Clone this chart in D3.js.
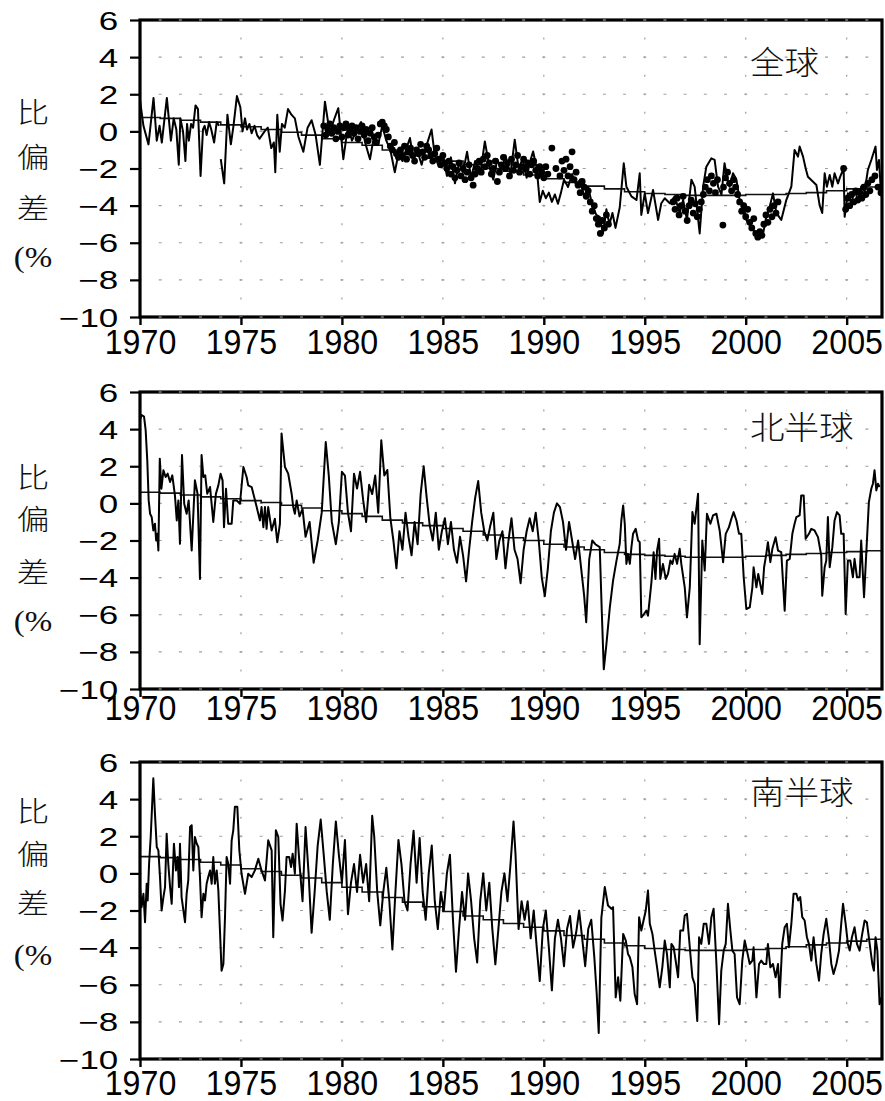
<!DOCTYPE html>
<html>
<head>
<meta charset="utf-8">
<script src="https://cdn.jsdelivr.net/npm/d3@7"></script>
<style>
  body { margin: 0; background: #fff; }
</style>
</head>
<body>
<div id="chart"></div>
<script>
// ---- data ----
const xTicks = [1970, 1975, 1980, 1985, 1990, 1995, 2000, 2005];
const yTicks = [6, 4, 2, 0, -2, -4, -6, -8, -10];
const gridValues = [4, 2, 0, -2, -4, -6, -8];
const panelTitles = ["全球", "北半球", "南半球"];
const axisTitle = ["比", "偏", "差", "(%"];

const trendYears = [1970, 1971, 1972, 1973, 1974, 1975, 1976, 1977, 1978, 1979,
  1980, 1981, 1982, 1983, 1984, 1985, 1986, 1987, 1988, 1989,
  1990, 1991, 1992, 1993, 1994, 1995, 1996, 1997, 1998, 1999,
  2000, 2001, 2002, 2003, 2004, 2005, 2006, 2006.75];

const globalTrend = [0.75, 0.7, 0.6, 0.5, 0.35, 0.25, 0.1, -0.05, -0.2, -0.4,
  -0.6, -0.75, -1.0, -1.25, -1.45, -1.6, -1.8, -2.0, -2.15, -2.35,
  -2.55, -2.75, -2.95, -3.1, -3.25, -3.35, -3.4, -3.45, -3.45, -3.45,
  -3.4, -3.4, -3.35, -3.3, -3.2, -3.1, -3.0, -3.0];

const northTrend = [0.6, 0.55, 0.45, 0.35, 0.25, 0.15, 0.05, -0.1, -0.25, -0.4,
  -0.55, -0.7, -0.9, -1.05, -1.2, -1.35, -1.5, -1.7, -1.85, -2.0,
  -2.2, -2.35, -2.5, -2.65, -2.75, -2.8, -2.85, -2.9, -2.9, -2.9,
  -2.85, -2.8, -2.75, -2.7, -2.65, -2.6, -2.55, -2.55];

const southTrend = [0.9, 0.85, 0.75, 0.6, 0.45, 0.25, 0.1, -0.1, -0.25, -0.5,
  -0.75, -1.0, -1.3, -1.55, -1.8, -2.05, -2.3, -2.5, -2.7, -2.9,
  -3.1, -3.35, -3.55, -3.75, -3.9, -4.05, -4.1, -4.15, -4.15, -4.15,
  -4.1, -4.05, -3.95, -3.85, -3.75, -3.65, -3.55, -3.55];

// [year, anomaly %]; null marks a break in the record
const globalSeries = [
  [1970.0,1.7],[1970.17,0.3],[1970.42,-0.7],[1970.67,1.8],[1970.83,-0.5],[1970.97,0.3],
  [1971.08,-0.6],[1971.33,1.8],[1971.53,-0.5],[1971.67,0.7],[1971.8,0.1],[1971.92,-1.8],
  [1972.0,0.7],[1972.13,0],[1972.25,-1.6],[1972.33,0.4],[1972.42,-0.5],[1972.53,0.4],
  [1972.63,0.2],[1972.75,1.4],[1972.87,1.2],[1973.0,-2.4],[1973.12,0.1],[1973.2,0.3],
  [1973.3,-0.2],[1973.42,0.5],[1973.53,0.1],[1973.67,-0.6],[1973.8,0.5],[1973.92,0.3],
  [1973.96,null],[1974.0,-1.5],[1974.17,-2.8],[1974.33,0.9],[1974.5,-0.7],[1974.63,0.3],
  [1974.8,1.9],[1974.97,1.3],[1975.08,0],[1975.2,0.7],[1975.3,0.1],[1975.42,0.4],
  [1975.53,-0.1],[1975.67,0.3],[1975.8,-0.2],[1975.92,-0.4],[1976.17,0],[1976.33,0.2],
  [1976.5,-0.9],[1976.63,-0.6],[1976.7,-2.2],[1976.8,0.9],[1976.92,-1.1],[1977.03,0.4],
  [1977.17,0.2],[1977.33,1.2],[1977.5,0.9],[1977.67,0.7],[1977.85,-0.3],[1978.09,-1.1],
  [1978.3,0.2],[1978.5,0.6],[1978.7,-0.2],[1978.91,-1.8],[1979.16,1.6],[1979.4,-0.1],
  [1979.6,0.6],[1979.82,1.25],[1980.07,-1.5],[1980.3,0.3],[1980.5,-0.5],[1980.73,0.1],
  [1980.95,0.5],[1981.15,-0.6],[1981.39,-1.5],[1981.6,-0.2],[1981.8,-0.7],[1982.0,0.3],
  [1982.2,-0.5],[1982.4,-1.0],[1982.62,-2.2],[1982.8,-1.2],[1983.0,-1.6],[1983.2,-0.9],
  [1983.37,-0.36],[1983.55,-1.5],[1983.75,-1.1],[1983.95,-1.8],[1984.15,-0.9],[1984.44,0.1],
  [1984.6,-1.3],[1984.8,-1.9],[1985.0,-1.2],[1985.2,-2.4],[1985.4,-1.4],[1985.6,-2.8],
  [1985.8,-1.7],[1986.0,-2.2],[1986.2,-1.1],[1986.4,-2.5],[1986.6,-1.6],[1986.85,-2.3],
  [1987.08,-0.54],[1987.3,-1.9],[1987.5,-2.6],[1987.7,-1.5],[1987.9,-2.1],[1988.1,-1.3],
  [1988.35,-2.3],[1988.56,-0.45],[1988.75,-2.0],[1988.95,-1.5],[1989.15,-2.5],[1989.3,-1.7],
  [1989.47,-1.08],[1989.65,-2.0],[1989.8,-3.8],[1989.95,-3.2],[1990.1,-3.6],[1990.25,-3.3],
  [1990.4,-3.8],[1990.55,-3.4],[1990.7,-3.9],[1990.85,-3.3],[1991.0,-2.6],[1991.2,-3.0],
  [1991.4,-2.3],[1991.6,-2.9],[1991.8,-2.6],[1992.0,-3.5],[1992.2,-3.0],[1992.4,-4.0],
  [1992.6,-4.5],[1992.77,-4.6],[1992.93,-5.5],[1993.1,-4.2],[1993.25,-5.0],[1993.4,-4.4],
  [1993.55,-5.2],[1993.76,-4.1],[1993.96,-1.72],[1994.09,-2.98],[1994.34,-3.5],[1994.59,-3.7],
  [1994.75,-2.26],[1994.83,-4.5],[1995.0,-3.34],[1995.16,-4.4],[1995.41,-3.16],[1995.66,-4.77],
  [1995.82,-3.87],[1995.99,-3.6],[1996.24,-3.87],[1996.48,-3.5],[1996.73,-4.4],[1996.9,-3.7],
  [1997.09,-4.77],[1997.31,-2.6],[1997.47,-2.98],[1997.72,-5.5],[1997.89,-2.98],[1998.05,-1.9],
  [1998.3,-1.45],[1998.46,-1.54],[1998.63,-2.98],[1998.8,-3.4],[1998.95,-1.72],[1999.1,-2.6],
  [1999.2,-2.98],[1999.37,-2.26],[1999.54,-2.6],[1999.7,-3.7],[1999.87,-3.87],[2000.03,-4.77],
  [2000.36,-5.3],[2000.61,-5.67],[2000.86,-5.5],[2001.02,-4.6],[2001.19,-4.05],[2001.35,-3.34],
  [2001.52,-4.4],[2001.76,-4.77],[2002.01,-3.7],[2002.26,-2.98],[2002.42,-1.0],[2002.59,-1.36],
  [2002.67,-0.82],[2002.84,-1.36],[2002.97,-2.0],[2003.08,-2.44],[2003.5,-2.89],[2003.66,-3.97],
  [2003.79,-4.4],[2003.91,-2.26],[2004.02,-2.98],[2004.16,-2.35],[2004.29,-2.98],[2004.4,-2.26],
  [2004.57,-2.8],[2004.68,-2.44],[2004.85,-2.0],[2004.9,-4.6],[2005.06,-3.34],[2005.23,-3.88],
  [2005.39,-3.16],[2005.56,-3.7],[2005.72,-2.98],[2005.89,-3.25],[2006.05,-2.08],[2006.22,-1.54],
  [2006.43,-0.82],[2006.5,-2.08],[2006.6,-1.54],[2006.71,-3.5]
];

// independent global estimates drawn as dots
const globalPoints = [
  [1979.1,0.3],[1979.2,-0.2],[1979.3,0.1],[1979.4,0.4],[1979.5,-0.1],[1979.6,0.2],[1979.7,-0.4],
  [1979.8,0.0],[1979.9,0.3],[1980.0,-0.3],[1980.1,0.2],[1980.2,0.4],[1980.3,-0.2],[1980.4,0.1],
  [1980.5,0.3],[1980.6,-0.1],[1980.7,0.2],[1980.8,-0.4],[1980.9,0.0],[1981.0,0.3],[1981.1,-0.2],
  [1981.2,0.1],[1981.3,-0.5],[1981.4,-0.1],[1981.5,0.2],[1981.6,-0.3],[1981.7,-0.6],[1981.8,-0.2],
  [1981.9,0.4],[1982.0,0.5],[1982.1,0.3],[1982.2,0.1],[1982.3,-0.3],[1982.4,-0.8],[1982.5,-1.0],
  [1982.6,-0.6],[1982.7,-1.2],[1982.8,-1.4],[1982.9,-1.0],[1983.0,-1.3],[1983.1,-0.8],[1983.2,-1.5],
  [1983.3,-1.1],[1983.4,-0.9],[1983.5,-1.3],[1983.6,-1.6],[1983.7,-1.0],[1983.8,-1.2],[1983.9,-0.7],
  [1984.0,-1.1],[1984.1,-1.4],[1984.2,-0.8],[1984.3,-1.0],[1984.4,-1.3],[1984.5,-1.6],[1984.6,-1.2],
  [1984.7,-0.9],[1984.8,-1.5],[1984.9,-1.8],[1985.0,-1.3],[1985.1,-1.7],[1985.2,-2.0],[1985.3,-1.6],
  [1985.4,-2.3],[1985.5,-1.9],[1985.6,-2.5],[1985.7,-2.1],[1985.8,-1.7],[1985.9,-2.4],[1986.0,-2.0],
  [1986.1,-2.6],[1986.2,-2.2],[1986.3,-1.8],[1986.4,-2.5],[1986.5,-2.9],[1986.6,-2.3],[1986.7,-2.0],
  [1986.8,-1.6],[1986.9,-2.2],[1987.0,-1.5],[1987.1,-1.9],[1987.2,-1.3],[1987.3,-1.7],[1987.4,-2.3],
  [1987.5,-2.0],[1987.6,-1.6],[1987.7,-2.7],[1987.8,-2.2],[1987.9,-1.8],[1988.0,-1.4],[1988.1,-2.0],
  [1988.2,-1.7],[1988.3,-2.4],[1988.4,-1.5],[1988.5,-2.1],[1988.6,-1.8],[1988.7,-1.3],[1988.8,-2.2],
  [1988.9,-1.9],[1989.0,-1.5],[1989.1,-2.0],[1989.2,-1.7],[1989.3,-2.3],[1989.4,-1.8],[1989.5,-1.6],
  [1989.6,-2.1],[1989.7,-2.4],[1989.8,-1.9],[1989.9,-2.2],[1990.0,-2.5],[1990.1,-1.9],[1990.2,-2.3],
  [1990.4,-0.9],[1990.6,-2.0],[1990.8,-2.4],[1990.9,-1.6],[1991.0,-2.1],[1991.1,-1.5],[1991.2,-2.4],
  [1991.3,-1.9],[1991.4,-1.1],[1991.5,-2.6],[1991.6,-2.2],[1991.7,-2.9],[1991.8,-3.3],[1991.9,-2.7],
  [1992.0,-3.0],[1992.1,-3.5],[1992.2,-3.2],[1992.3,-3.8],[1992.4,-4.3],[1992.5,-4.0],[1992.6,-4.7],
  [1992.7,-5.0],[1992.8,-5.5],[1992.9,-4.8],[1993.0,-5.2],[1993.1,-4.5],[1993.2,-5.0],
  [1996.4,-3.8],[1996.5,-4.2],[1996.6,-3.6],[1996.7,-4.5],[1996.8,-4.0],[1996.9,-3.5],[1997.0,-4.3],
  [1997.1,-4.8],[1997.2,-4.0],[1997.3,-3.7],[1997.4,-4.4],[1997.5,-3.9],[1997.6,-4.6],[1997.7,-4.2],
  [1997.8,-3.8],[1997.9,-3.4],[1998.0,-3.0],[1998.1,-2.6],[1998.2,-3.2],[1998.3,-2.4],[1998.4,-2.8],
  [1998.5,-3.3],[1998.6,-2.6],[1998.87,-5.05],[1998.9,-3.0],[1999.0,-2.5],[1999.1,-2.2],[1999.2,-2.8],
  [1999.3,-3.2],[1999.4,-2.6],[1999.5,-3.0],[1999.6,-3.4],[1999.7,-3.8],[1999.8,-4.3],[1999.9,-4.0],
  [2000.0,-4.6],[2000.1,-4.2],[2000.2,-4.9],[2000.3,-5.2],[2000.4,-4.7],[2000.5,-5.5],[2000.6,-5.7],
  [2000.7,-5.4],[2000.8,-5.6],[2000.9,-5.0],[2001.0,-4.5],[2001.1,-4.9],[2001.2,-4.2],[2001.3,-4.6],
  [2001.4,-4.0],[2001.5,-4.4],[2001.6,-3.8],
  [2004.85,-2.0],[2004.95,-4.2],[2005.05,-3.6],[2005.15,-4.0],[2005.25,-3.4],[2005.35,-3.8],
  [2005.45,-3.2],[2005.55,-3.7],[2005.65,-3.3],[2005.75,-3.6],[2005.85,-3.0],[2005.95,-3.4],
  [2006.05,-2.8],[2006.15,-3.2],[2006.25,-2.6],[2006.4,-2.4],[2006.55,-3.0],[2006.7,-3.3]
];

const northSeries = [
  [1970.0,4.49],[1970.08,4.76],[1970.2,4.67],[1970.28,3.95],[1970.36,2.32],[1970.43,0.16],
  [1970.5,-0.56],[1970.58,-0.74],[1970.66,-1.46],[1970.74,-1.1],[1970.8,-2.0],[1970.86,-1.64],
  [1970.91,-2.54],[1970.98,2.41],[1971.06,0.79],[1971.16,1.78],[1971.27,1.42],[1971.37,1.6],
  [1971.49,1.15],[1971.6,1.51],[1971.73,0.43],[1971.82,-0.92],[1971.9,0.16],[1971.98,-2.18],
  [1972.08,2.6],[1972.19,-0.02],[1972.31,-0.56],[1972.41,0.16],[1972.56,-2.54],[1972.72,1.24],
  [1972.85,0.52],[1972.97,-4.07],[1973.05,2.6],[1973.14,1.42],[1973.23,1.51],[1973.33,0.52],
  [1973.47,0.88],[1973.63,-1.0],[1973.76,0.52],[1973.88,0.97],[1973.99,1.6],[1974.09,1.24],
  [1974.16,-1.28],[1974.26,0.79],[1974.37,-1.1],[1974.54,-1.1],[1974.62,0.16],[1974.79,0.16],
  [1974.95,-0.02],[1975.12,1.96],[1975.28,1.42],[1975.36,0.97],[1975.53,0.88],[1975.78,-0.2],
  [1975.94,-0.92],[1976.02,-0.2],[1976.11,-1.28],[1976.19,-0.2],[1976.27,-1.37],[1976.35,-0.2],
  [1976.52,-1.46],[1976.68,-0.83],[1976.8,-2.09],[1976.93,-1.1],[1977.01,3.77],[1977.18,1.96],
  [1977.34,1.6],[1977.51,0.52],[1977.59,-0.2],[1977.67,-0.56],[1977.76,0.16],[1977.9,-0.7],
  [1978.05,-0.3],[1978.2,-1.8],[1978.4,-1.0],[1978.6,-3.2],[1978.8,-2.0],[1979.0,-0.5],
  [1979.2,3.3],[1979.35,1.5],[1979.5,-1.0],[1979.7,-2.2],[1979.85,-1.0],[1980.0,1.7],
  [1980.15,1.5],[1980.3,-0.5],[1980.45,-1.5],[1980.6,1.6],[1980.75,0.8],[1980.9,1.7],
  [1981.05,0.2],[1981.2,-1.0],[1981.35,1.0],[1981.5,0.5],[1981.65,1.5],[1981.8,-0.5],
  [1981.95,3.4],[1982.1,1.5],[1982.25,1.8],[1982.4,-0.8],[1982.55,-2.0],[1982.7,-3.5],
  [1982.85,-1.5],[1983.0,-2.5],[1983.15,-0.5],[1983.3,-1.8],[1983.45,-2.8],[1983.6,-1.0],
  [1983.75,-2.2],[1983.9,0.5],[1984.05,2.0],[1984.2,0.3],[1984.35,-1.2],[1984.5,-2.0],
  [1984.65,-0.5],[1984.8,-2.5],[1984.95,-1.5],[1985.1,-0.8],[1985.25,-2.2],[1985.4,-1.0],
  [1985.55,-2.5],[1985.7,-3.2],[1985.85,-1.8],[1986.0,-2.8],[1986.15,-4.2],[1986.3,-2.5],
  [1986.45,-1.0],[1986.6,0.3],[1986.75,1.2],[1986.9,-0.5],[1987.05,-1.5],[1987.2,-2.0],
  [1987.35,-1.2],[1987.5,-0.5],[1987.65,-3.0],[1987.8,-2.0],[1987.95,-1.5],[1988.1,-3.5],
  [1988.25,-2.0],[1988.4,-0.8],[1988.55,-2.5],[1988.7,-3.0],[1988.85,-4.3],[1989.0,-2.5],
  [1989.15,-1.5],[1989.3,-0.8],[1989.45,-1.5],[1989.6,-0.5],[1989.75,-2.0],[1989.9,-4.0],
  [1990.05,-5.0],[1990.2,-3.5],[1990.35,-1.5],[1990.5,-0.5],[1990.65,0.0],[1990.8,-0.2],
  [1990.95,-1.0],[1991.1,-2.5],[1991.25,-1.0],[1991.4,-2.0],[1991.55,-3.0],[1991.7,-2.0],
  [1991.85,-3.5],[1992.0,-5.0],[1992.1,-6.4],[1992.25,-3.0],[1992.4,-2.0],[1992.55,-2.2],
  [1992.77,-2.36],[1992.87,-5.78],[1992.97,-8.94],[1993.1,-7.59],[1993.27,-5.6],[1993.43,-4.16],
  [1993.6,-3.08],[1993.76,-2.18],[1993.84,-0.92],[1993.93,-0.11],[1994.01,-1.1],[1994.09,-3.26],
  [1994.17,-2.72],[1994.26,-3.26],[1994.34,-2.36],[1994.42,-1.64],[1994.55,-1.37],[1994.67,-2.0],
  [1994.75,-2.09],[1994.83,-6.14],[1994.96,-5.96],[1995.08,-5.78],[1995.16,-6.05],[1995.33,-4.25],
  [1995.44,-2.63],[1995.53,-4.07],[1995.61,-2.54],[1995.71,-1.91],[1995.77,-4.07],[1995.9,-3.26],
  [1996.04,-4.07],[1996.15,-3.8],[1996.27,-3.08],[1996.37,-3.26],[1996.48,-2.72],[1996.6,-3.26],
  [1996.73,-2.45],[1996.81,-3.26],[1996.98,-4.52],[1997.09,-6.14],[1997.23,-4.52],[1997.36,-0.47],
  [1997.47,-1.1],[1997.64,0.52],[1997.72,-7.59],[1997.85,-2.0],[1997.97,-3.62],[1998.08,-0.56],
  [1998.25,-1.1],[1998.38,-0.65],[1998.55,-0.56],[1998.71,-1.46],[1998.88,-3.17],[1999.01,-1.64],
  [1999.17,-1.28],[1999.29,-0.83],[1999.4,-0.47],[1999.54,-0.92],[1999.67,-1.64],[1999.78,-1.64],
  [1999.9,-3.98],[2000.03,-5.69],[2000.2,-5.6],[2000.33,-4.52],[2000.39,-3.44],[2000.53,-4.52],
  [2000.62,-3.8],[2000.72,-4.34],[2000.82,-4.88],[2000.91,-3.44],[2001.02,-2.72],[2001.1,-2.09],
  [2001.22,-3.17],[2001.32,-2.45],[2001.48,-1.82],[2001.6,-2.54],[2001.76,-2.63],[2001.93,-5.78],
  [2002.04,-3.08],[2002.18,-2.99],[2002.31,-1.64],[2002.42,-1.1],[2002.51,-0.74],[2002.67,-0.65],
  [2002.75,0.43],[2002.87,0.43],[2002.97,-1.91],[2003.13,-1.64],[2003.25,-1.37],[2003.41,-1.46],
  [2003.58,-1.82],[2003.74,-2.81],[2003.79,-4.97],[2003.91,-3.44],[2003.99,-3.08],[2004.07,-0.74],
  [2004.16,-3.44],[2004.29,-2.36],[2004.4,-0.92],[2004.52,-0.47],[2004.65,-0.65],[2004.73,-1.64],
  [2004.85,-1.64],[2004.95,-5.96],[2005.06,-3.08],[2005.18,-3.08],[2005.31,-3.98],[2005.39,-2.99],
  [2005.51,-3.98],[2005.64,-3.98],[2005.72,-2.0],[2005.86,-5.06],[2006.1,0.07],[2006.22,0.79],
  [2006.3,1.06],[2006.38,1.78],[2006.47,0.7],[2006.55,1.06],[2006.63,0.88]
];

const southSeries = [
  [1970.0,-0.74],[1970.08,-1.82],[1970.17,-1.1],[1970.25,-2.63],[1970.33,-0.56],[1970.38,-1.46],
  [1970.45,0.52],[1970.53,1.96],[1970.66,5.12],[1970.74,3.23],[1970.83,1.42],[1970.91,1.24],
  [1970.99,-0.2],[1971.07,-2.0],[1971.16,-1.28],[1971.24,-0.74],[1971.32,2.14],[1971.4,0.52],
  [1971.49,-0.74],[1971.57,-1.64],[1971.68,1.6],[1971.78,0.16],[1971.86,0.88],[1971.93,-0.74],
  [1971.98,1.6],[1972.06,-1.28],[1972.15,-2.0],[1972.23,-2.63],[1972.31,-1.1],[1972.39,-0.38],
  [1972.48,2.5],[1972.56,2.59],[1972.64,0.16],[1972.72,1.96],[1972.81,1.6],[1972.89,1.42],
  [1972.97,-0.2],[1973.05,-2.36],[1973.14,-1.1],[1973.22,-1.46],[1973.3,-0.56],[1973.38,-0.2],
  [1973.47,0.16],[1973.55,-0.56],[1973.63,0.88],[1973.71,-0.56],[1973.8,0.16],[1973.88,-0.92],
  [1973.96,-3.08],[1974.04,-5.24],[1974.13,-4.88],[1974.21,-2.36],[1974.29,0.88],[1974.37,0.52],
  [1974.46,-0.56],[1974.54,1.78],[1974.62,2.32],[1974.7,3.59],[1974.82,3.59],[1974.92,1.24],
  [1975.03,-0.02],[1975.2,-1.1],[1975.36,-0.02],[1975.53,-0.2],[1975.69,0.16],[1975.86,0.79],
  [1976.02,0.16],[1976.19,-0.38],[1976.35,1.78],[1976.52,1.24],[1976.6,-3.44],[1976.73,2.32],
  [1976.85,1.96],[1976.96,-1.64],[1977.06,-2.54],[1977.18,-0.92],[1977.26,0.88],[1977.39,0.88],
  [1977.48,0.34],[1977.56,1.06],[1977.67,-0.02],[1977.76,2.68],[1977.9,0.5],[1978.05,-1.5],
  [1978.2,2.5],[1978.35,0],[1978.5,-3.2],[1978.65,-1.0],[1978.8,1.5],[1978.95,2.9],
  [1979.1,1.0],[1979.25,-1.0],[1979.4,-2.5],[1979.55,0.5],[1979.7,2.8],[1979.85,1.0],
  [1980.0,-0.5],[1980.15,1.8],[1980.3,-2.2],[1980.45,-0.5],[1980.6,0.5],[1980.75,-1.0],
  [1980.9,1.0],[1981.05,-0.5],[1981.2,0.5],[1981.35,-1.5],[1981.5,3.1],[1981.6,2.0],
  [1981.75,-1.0],[1981.9,-2.8],[1982.05,-1.0],[1982.2,0.3],[1982.35,-1.5],[1982.5,-4.1],
  [1982.65,-1.0],[1982.8,1.8],[1982.95,0.5],[1983.1,-1.5],[1983.25,-2.0],[1983.4,0.5],
  [1983.55,2.3],[1983.7,-0.5],[1983.85,1.9],[1984.0,-1.0],[1984.15,-2.5],[1984.3,0],
  [1984.45,1.5],[1984.6,-1.5],[1984.75,-3.0],[1984.9,-1.0],[1985.05,-2.0],[1985.2,0],
  [1985.35,1.0],[1985.5,-2.5],[1985.65,-5.3],[1985.8,-3.0],[1985.95,-1.0],[1986.1,-2.5],
  [1986.25,0],[1986.4,-1.5],[1986.55,-3.5],[1986.7,-4.8],[1986.85,-1.5],[1987.0,0],
  [1987.15,-2.0],[1987.3,-0.5],[1987.45,-3.0],[1987.6,-4.9],[1987.75,-3.0],[1987.9,-1.0],
  [1988.05,0],[1988.2,-1.5],[1988.35,0.5],[1988.5,2.8],[1988.6,1.0],[1988.75,-3.0],
  [1988.9,-1.5],[1989.05,-2.5],[1989.2,-1.5],[1989.35,-3.5],[1989.5,-2.0],[1989.65,-4.0],
  [1989.8,-5.8],[1989.95,-3.0],[1990.1,-2.0],[1990.25,-4.0],[1990.4,-6.3],[1990.55,-3.5],
  [1990.7,-2.5],[1990.85,-3.5],[1991.0,-5.0],[1991.15,-3.0],[1991.3,-2.3],[1991.45,-4.0],
  [1991.6,-3.2],[1991.75,-2.0],[1991.9,-3.5],[1992.05,-5.0],[1992.2,-3.0],[1992.35,-2.5],
  [1992.5,-4.5],[1992.62,-6.5],[1992.72,-8.6],[1992.85,-2.4],[1993.02,-0.74],[1993.18,-1.73],
  [1993.35,-1.91],[1993.43,-1.82],[1993.56,-6.68],[1993.68,-5.6],[1993.79,-6.86],[1993.93,-3.26],
  [1994.06,-3.62],[1994.17,-4.34],[1994.26,-4.52],[1994.39,-5.06],[1994.5,-6.5],[1994.62,-7.05],
  [1994.72,-2.36],[1994.83,-3.08],[1994.92,-2.63],[1995.05,-2.0],[1995.16,-0.92],[1995.25,-2.72],
  [1995.38,-3.26],[1995.49,-4.16],[1995.61,-5.06],[1995.74,-6.14],[1995.87,-5.06],[1995.99,-3.62],
  [1996.1,-4.34],[1996.24,-6.14],[1996.32,-3.8],[1996.43,-3.98],[1996.53,-4.7],[1996.65,-5.6],
  [1996.76,-3.08],[1996.9,-3.08],[1996.98,-2.27],[1997.09,-2.18],[1997.23,-3.98],[1997.36,-5.6],
  [1997.47,-5.96],[1997.6,-7.95],[1997.69,-3.44],[1997.8,-3.8],[1997.92,-2.72],[1998.05,-2.72],
  [1998.18,-3.8],[1998.3,-2.36],[1998.41,-1.91],[1998.55,-4.88],[1998.68,-8.13],[1998.79,-5.24],
  [1998.91,-4.16],[1999.01,-3.8],[1999.12,-1.64],[1999.24,-3.08],[1999.34,-4.16],[1999.45,-4.34],
  [1999.57,-6.68],[1999.7,-7.05],[1999.83,-4.7],[1999.95,-3.62],[2000.06,-4.16],[2000.2,-4.88],
  [2000.33,-4.7],[2000.39,-3.98],[2000.53,-6.68],[2000.66,-4.88],[2000.77,-4.7],[2000.89,-4.88],
  [2001.02,-4.88],[2001.1,-3.8],[2001.22,-5.06],[2001.35,-4.88],[2001.48,-5.6],[2001.6,-4.88],
  [2001.68,-6.68],[2001.81,-3.8],[2001.93,-2.9],[2002.04,-2.72],[2002.14,-3.98],[2002.26,-2.72],
  [2002.37,-1.1],[2002.51,-1.1],[2002.6,-1.46],[2002.7,-1.28],[2002.8,-2.36],[2002.92,-2.54],
  [2003.03,-3.44],[2003.13,-3.8],[2003.25,-4.7],[2003.36,-3.44],[2003.5,-4.88],[2003.63,-5.78],
  [2003.74,-4.34],[2003.86,-3.26],[2003.99,-2.45],[2004.12,-3.53],[2004.24,-4.88],[2004.35,-5.42],
  [2004.49,-4.88],[2004.62,-4.16],[2004.73,-2.72],[2004.82,-1.64],[2004.95,-2.72],[2005.06,-3.8],
  [2005.15,-4.16],[2005.26,-3.44],[2005.39,-2.9],[2005.51,-3.8],[2005.64,-4.16],[2005.77,-3.26],
  [2005.89,-2.54],[2006.0,-2.63],[2006.14,-3.8],[2006.27,-4.88],[2006.35,-5.24],[2006.43,-3.44],
  [2006.52,-4.16],[2006.63,-7.05],[2006.71,-6.68]
];

// ---- layout ----
const width = 885;
const height = 1101;
const plotLeft = 140;
const plotRight = 882;
const plotH = 297;

const panels = [
  { top: 20,  labelY: 354,  titleY: 74,  axisTitleY: [112, 157, 208, 258], series: globalSeries, trend: globalTrend, points: globalPoints },
  { top: 392, labelY: 720,  titleY: 439, axisTitleY: [477, 519, 572, 622], series: northSeries,  trend: northTrend,  points: [] },
  { top: 762, labelY: 1095, titleY: 804, axisTitleY: [811, 854, 903, 956], series: southSeries,  trend: southTrend,  points: [] }
];

const svg = d3.select("#chart")
  .append("svg")
  .attr("width", width)
  .attr("height", height)
  .style("background", "#fff");

const x = d3.scaleLinear()
  .domain([1970, 2006.75])
  .range([plotLeft, plotRight]);

const pxYear = x(1971) - x(1970);

panels.forEach((p, i) => {
  const bottom = p.top + plotH;
  const y = d3.scaleLinear().domain([-10, 6]).range([bottom, p.top]);
  const pxUnit = y(0) - y(1);
  const g = svg.append("g");

  // dotted grid
  g.selectAll("line.hgrid")
    .data(gridValues)
    .join("line")
    .attr("class", "hgrid")
    .attr("x1", plotLeft).attr("x2", plotRight)
    .attr("y1", d => y(d)).attr("y2", d => y(d))
    .attr("stroke", "#a0a0a0")
    .attr("stroke-width", 1.2)
    .attr("stroke-dasharray", `3 ${pxYear - 3}`)
    .attr("stroke-dashoffset", 1.5);

  g.selectAll("line.vgrid")
    .data(xTicks.slice(1))
    .join("line")
    .attr("class", "vgrid")
    .attr("x1", d => x(d)).attr("x2", d => x(d))
    .attr("y1", bottom).attr("y2", p.top)
    .attr("stroke", "#a0a0a0")
    .attr("stroke-width", 1.2)
    .attr("stroke-dasharray", `2 ${pxUnit - 2}`)
    .attr("stroke-dashoffset", 1);

  // clip to plot box
  const clipId = "clip" + i;
  svg.append("clipPath").attr("id", clipId)
    .append("rect")
    .attr("x", plotLeft).attr("y", p.top)
    .attr("width", plotRight - plotLeft).attr("height", plotH);

  const plot = g.append("g").attr("clip-path", `url(#${clipId})`);

  // trend
  const trendLine = d3.line()
    .x((d, k) => x(trendYears[k]))
    .y(d => y(d))
    .curve(d3.curveStepAfter);

  plot.append("path")
    .datum(p.trend)
    .attr("fill", "none")
    .attr("stroke", "#111")
    .attr("stroke-width", 1.6)
    .attr("d", trendLine);

  // monthly anomaly series
  const line = d3.line()
    .defined(d => d[1] !== null)
    .x(d => x(d[0]))
    .y(d => y(d[1]));

  plot.append("path")
    .datum(p.series)
    .attr("fill", "none")
    .attr("stroke", "#000")
    .attr("stroke-width", 2)
    .attr("stroke-linejoin", "round")
    .attr("d", line);

  plot.selectAll("circle")
    .data(p.points)
    .join("circle")
    .attr("cx", d => x(d[0]))
    .attr("cy", d => y(d[1]))
    .attr("r", 3.4)
    .attr("fill", "#000");

  // frame
  g.append("rect")
    .attr("x", plotLeft).attr("y", p.top)
    .attr("width", plotRight - plotLeft).attr("height", plotH)
    .attr("fill", "none")
    .attr("stroke", "#000")
    .attr("stroke-width", 3.2);

  // light marks along top and bottom borders
  g.selectAll("line.bmark")
    .data([6, -10])
    .join("line")
    .attr("class", "bmark")
    .attr("x1", plotLeft + pxYear - 1.5).attr("x2", plotRight - 4)
    .attr("y1", d => y(d)).attr("y2", d => y(d))
    .attr("stroke", "#b8b8b8")
    .attr("stroke-width", 1)
    .attr("stroke-dasharray", `3 ${pxYear - 3}`);

  // y axis
  const yAxis = g.append("g")
    .attr("transform", `translate(${plotLeft},0)`)
    .call(d3.axisLeft(y).tickValues(yTicks).tickSize(10).tickFormat(d3.format("d")));
  yAxis.select(".domain").remove();
  yAxis.selectAll(".tick line").attr("stroke", "#000").attr("stroke-width", 2.2);
  yAxis.selectAll(".tick text")
    .attr("x", -15.5)
    .attr("dy", "0.36em")
    .attr("transform", "scale(1.4,1)")
    .style("font-family", "'Liberation Sans', Arial, sans-serif")
    .style("font-size", "25px")
    .attr("fill", "#000");

  // x axis
  const xAxis = g.append("g")
    .attr("transform", `translate(0,${bottom})`)
    .call(d3.axisBottom(x).tickValues(xTicks).tickSize(8).tickFormat(d3.format("d")));
  xAxis.select(".domain").remove();
  xAxis.selectAll(".tick line").attr("stroke", "#000").attr("stroke-width", 2.4);
  xAxis.selectAll(".tick text")
    .attr("y", p.labelY - bottom)
    .attr("dy", 0)
    .attr("transform", "scale(0.92,1)")
    .style("font-family", "'Liberation Sans', Arial, sans-serif")
    .style("font-size", "35px")
    .attr("fill", "#000");

  // panel title
  g.append("text")
    .attr("transform", `translate(750,${p.titleY}) scale(1.08,1)`)
    .style("font-family", "'Noto Sans CJK SC', sans-serif")
    .style("font-size", "32px")
    .style("font-weight", 300)
    .attr("fill", "#111")
    .text(panelTitles[i]);

  // vertical axis title, one glyph per row
  axisTitle.forEach((ch, k) => {
    const isLatin = ch === "(%";
    g.append("text")
      .attr("transform", `translate(33,${p.axisTitleY[k] + (isLatin ? 9 : 11)}) scale(${isLatin ? 1.1 : 1.12},1)`)
      .attr("text-anchor", "middle")
      .style("font-family", isLatin ? "'Liberation Serif', serif" : "'Noto Sans CJK SC', sans-serif")
      .style("font-size", isLatin ? "30px" : "29px")
      .style("font-weight", isLatin ? 400 : 300)
      .attr("fill", "#111")
      .text(ch);
  });
});
</script>
</body>
</html>
